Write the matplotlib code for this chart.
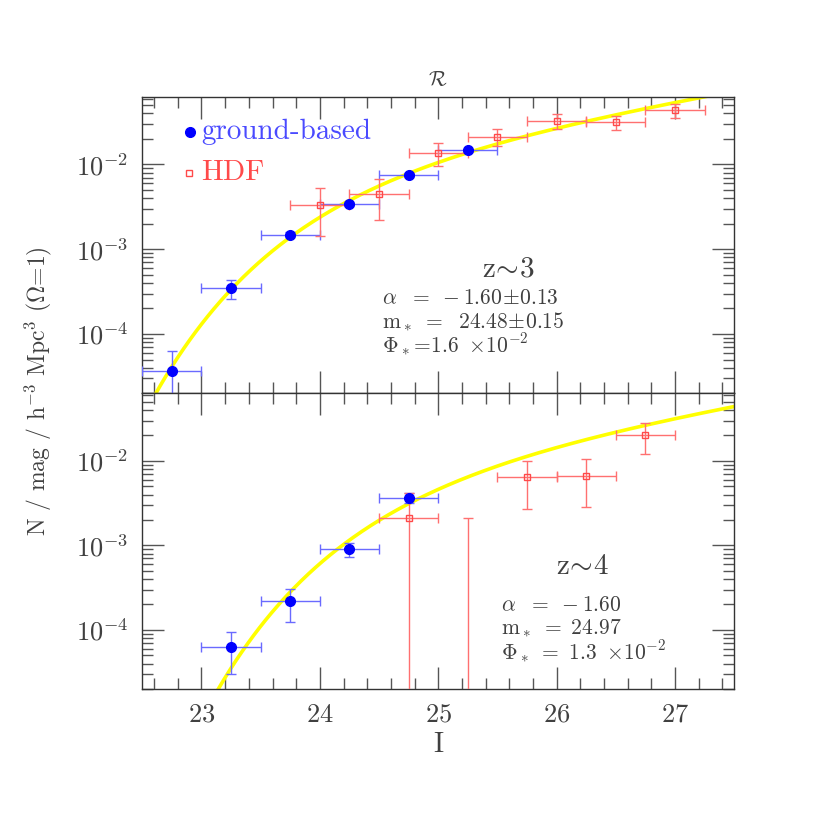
import matplotlib
matplotlib.use("Agg")
import matplotlib.pyplot as plt
import numpy as np
from matplotlib.ticker import LogLocator, MultipleLocator, NullFormatter

plt.rcParams.update({
    "font.family": "serif",
    "font.serif": ["cmr10"],
    "mathtext.fontset": "cm",
    "axes.unicode_minus": False,
    "axes.formatter.use_mathtext": True,
})

TXT = "#404040"
BLUE = "#0000ff"
BLUE_ERR = "#6a6aff"
RED = "#ff4a4a"
RED_ERR = "#ff7070"

# ---- z~3 panel ----
gb3_mag = [22.75, 23.25, 23.75, 24.25, 24.75, 25.25]
gb3_n = [3.7e-5, 3.5e-4, 1.49e-3, 3.4e-3, 7.6e-3, 1.47e-2]
gb3_lo = [1.0e-6, 2.6e-4, 1.38e-3, 3.2e-3, 7.2e-3, 1.40e-2]
gb3_hi = [6.3e-5, 4.35e-4, 1.60e-3, 3.6e-3, 8.0e-3, 1.54e-2]

hdf3_mag = [24.0, 24.5, 25.0, 25.5, 26.0, 26.5, 27.0]
hdf3_n = [3.36e-3, 4.54e-3, 1.35e-2, 2.12e-2, 3.25e-2, 3.16e-2, 4.4e-2]
hdf3_lo = [1.43e-3, 2.23e-3, 9.5e-3, 1.65e-2, 2.62e-2, 2.55e-2, 3.57e-2]
hdf3_hi = [5.35e-3, 6.8e-3, 1.77e-2, 2.62e-2, 3.9e-2, 3.76e-2, 5.2e-2]

# ---- z~4 panel ----
gb4_mag = [23.25, 23.75, 24.25, 24.75]
gb4_n = [6.2e-5, 2.2e-4, 9.06e-4, 3.61e-3]
gb4_lo = [3.03e-5, 1.25e-4, 7.35e-4, 3.2e-3]
gb4_hi = [9.4e-5, 3.08e-4, 1.08e-3, 4.14e-3]

# second HDF bin is below the plotted range (only the upper bar shows)
hdf4_mag = [24.75, 25.25, 25.75, 26.25, 26.75]
hdf4_n = [2.13e-3, 1.0e-6, 6.4e-3, 6.7e-3, 2.03e-2]
hdf4_lo = [1.0e-7, 1.0e-7, 2.72e-3, 2.85e-3, 1.2e-2]
hdf4_hi = [4.2e-3, 2.13e-3, 1.0e-2, 1.05e-2, 2.83e-2]

BIN_HALF = 0.25

# Schechter fits (alpha, m*, phi*)
fit3 = (-1.60, 24.48, 1.6e-2)
fit4 = (-1.60, 24.97, 1.3e-2)


def schechter(m, alpha, mstar, phistar):
    x = 10 ** (0.4 * (mstar - m))
    return 0.4 * np.log(10) * phistar * x ** (alpha + 1) * np.exp(-x)


def draw_points(ax, mag, n, lo, hi, color, ecolor, marker, mfc, ms):
    n = np.array(n)
    yerr = [n - np.array(lo), np.array(hi) - n]
    ax.errorbar(mag, n, xerr=BIN_HALF, yerr=yerr, fmt=marker, color=color,
                mfc=mfc, mec=color, ms=ms, mew=1.0, ecolor=ecolor,
                elinewidth=1.0, capsize=3.5, capthick=1.0, zorder=3)


def style(ax):
    ax.set_yscale("log")
    ax.set_xlim(22.5, 27.5)
    ax.set_ylim(2e-5, 10 ** -1.2)
    ax.xaxis.set_major_locator(MultipleLocator(1))
    ax.xaxis.set_minor_locator(MultipleLocator(0.2))
    ax.yaxis.set_major_locator(LogLocator(base=10, numticks=10))
    ax.yaxis.set_minor_locator(LogLocator(base=10, subs=np.arange(2, 10), numticks=10))
    ax.yaxis.set_minor_formatter(NullFormatter())
    ax.tick_params(which="both", direction="in", top=True, right=True,
                   colors="#555555", labelcolor=TXT, labelsize=19)
    ax.tick_params(which="major", length=16, width=1.0, pad=10)
    ax.tick_params(which="minor", length=8, width=1.0)
    for s in ax.spines.values():
        s.set_color("#333333")
        s.set_linewidth(1.0)


fig = plt.figure(figsize=(8.3, 8.3), dpi=100)
ax1 = fig.add_axes([0.1714, 0.5262, 0.7133, 0.3573])
ax2 = fig.add_axes([0.1714, 0.1699, 0.7133, 0.3563], sharex=ax1)

mm = np.linspace(22.5, 27.5, 400)
for ax, fit in ((ax1, fit3), (ax2, fit4)):
    style(ax)
    ax.plot(mm, schechter(mm, *fit), color="#ffff00", lw=2.6, zorder=2)

draw_points(ax1, gb3_mag, gb3_n, gb3_lo, gb3_hi, BLUE, BLUE_ERR, "o", BLUE, 7)
draw_points(ax1, hdf3_mag, hdf3_n, hdf3_lo, hdf3_hi, RED, RED_ERR, "s", "none", 5)
draw_points(ax2, gb4_mag, gb4_n, gb4_lo, gb4_hi, BLUE, BLUE_ERR, "o", BLUE, 7)
draw_points(ax2, hdf4_mag, hdf4_n, hdf4_lo, hdf4_hi, RED, RED_ERR, "s", "none", 5)

ax1.tick_params(labelbottom=False)

# legend drawn by hand, like the original
ax1.plot([0.081], [0.882], "o", color=BLUE, ms=7, transform=ax1.transAxes)
ax1.text(0.100, 0.882, "ground-based", color="#4a4aff", fontsize=21,
         va="center", ha="left", transform=ax1.transAxes)
ax1.plot([0.079], [0.743], "s", mfc="none", mec=RED, ms=5, transform=ax1.transAxes)
ax1.text(0.100, 0.743, "HDF", color=RED, fontsize=21,
         va="center", ha="left", transform=ax1.transAxes)

ax1.text(0.619, 0.419, r"$\mathrm{z}\!\sim\!3$", color=TXT, fontsize=21,
         ha="center", va="center", transform=ax1.transAxes)
for y, s in ((0.321, r"$\alpha\ \ =\ -1.60\!\pm\!0.13$"),
             (0.240, r"$\mathrm{m}_*\ =\ \ 24.48\!\pm\!0.15$"),
             (0.162, r"$\Phi_*\!=\!1.6\ \times\!10^{-2}$")):
    ax1.text(0.405, y, s, color=TXT, fontsize=15.5, ha="left", va="center",
             transform=ax1.transAxes)

ax2.text(0.743, 0.414, r"$\mathrm{z}\!\sim\!4$", color=TXT, fontsize=21,
         ha="center", va="center", transform=ax2.transAxes)
for y, s in ((0.284, r"$\alpha\ \ =\ -1.60$"),
             (0.206, r"$\mathrm{m}_*\ =\ 24.97$"),
             (0.126, r"$\Phi_*\ =\ 1.3\ \times\!10^{-2}$")):
    ax2.text(0.606, y, s, color=TXT, fontsize=15.5, ha="left", va="center",
             transform=ax2.transAxes)

fig.text(0.5277, 1 - 80 / 830, r"$\mathcal{R}$", color=TXT, fontsize=15,
         ha="center", va="center")
fig.text(0.5277, 1 - 745 / 830, "I", color=TXT, fontsize=20,
         ha="center", va="center")
fig.text(38 / 830, 1 - 391 / 830,
         r"N / mag / h$^{-3}$ Mpc$^{3}$ ($\Omega$=1)", color=TXT,
         fontsize=17, rotation=90, ha="center", va="center")

fig.savefig("out.png", dpi=100)
